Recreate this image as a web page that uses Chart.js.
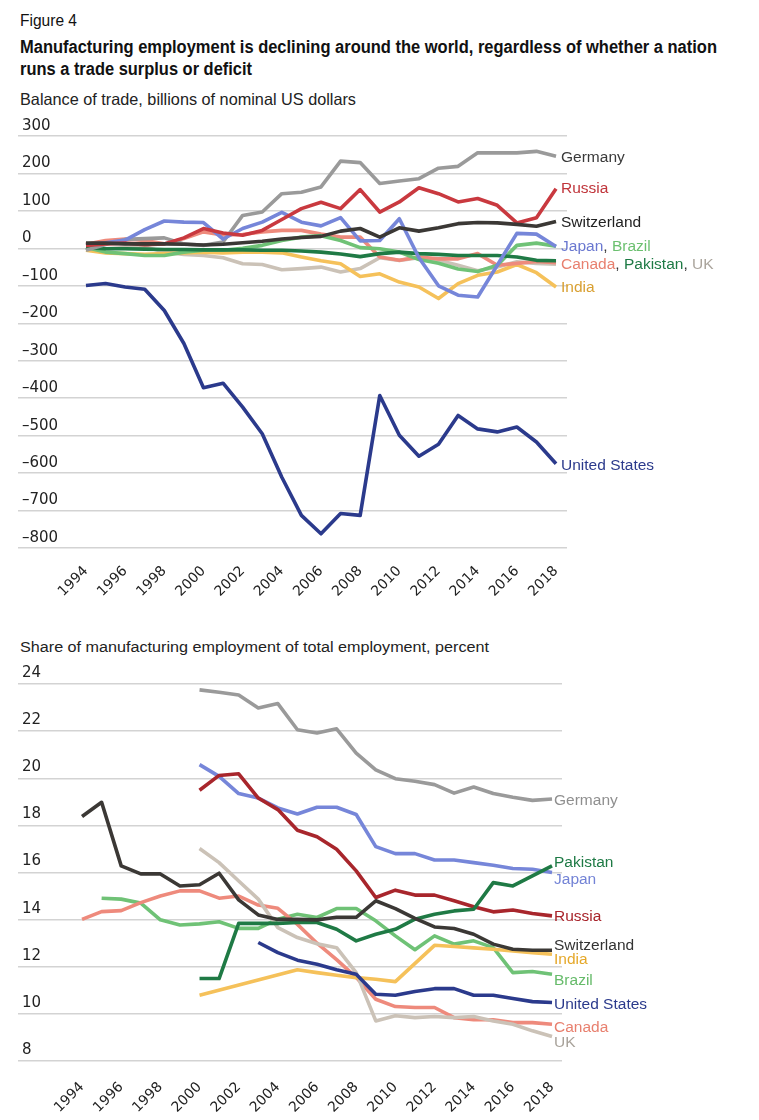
<!DOCTYPE html>
<html><head><meta charset="utf-8">
<script src="https://cdn.jsdelivr.net/npm/chart.js@4"></script>
<style>
body{margin:0;background:#fff;width:759px;height:1120px;position:relative;overflow:hidden;font-family:"Liberation Sans",Arial,sans-serif;color:#111}
.t{position:absolute;left:20px;white-space:nowrap;transform-origin:0 50%}
#fig{top:10px;font:16.5px/20px "Liberation Sans",Arial,sans-serif}
#title1{top:36px;font:bold 17.5px/22px "Liberation Sans",Arial,sans-serif}
#title2{top:58px;font:bold 17.5px/22px "Liberation Sans",Arial,sans-serif}
#sub1{top:89px;font:16.5px/20px "Liberation Sans",Arial,sans-serif;color:#222}
#sub2{top:637px;font:15.5px/20px "Liberation Sans",Arial,sans-serif;color:#222}
canvas{position:absolute;left:0}
#c1{top:110px}
#c2{top:655px}
</style></head>
<body>
<div class="t" id="fig" data-w="57">Figure 4</div>
<div class="t" id="title1" data-w="697">Manufacturing employment is declining around the world, regardless of whether a nation</div>
<div class="t" id="title2" data-w="232">runs a trade surplus or deficit</div>
<div class="t" id="sub1" data-w="336">Balance of trade, billions of nominal US dollars</div>
<div class="t" id="sub2" data-w="469">Share of manufacturing employment of total employment, percent</div>
<canvas id="c1" width="759" height="488"></canvas>
<canvas id="c2" width="759" height="465"></canvas>
<script>
document.querySelectorAll('[data-w]').forEach(el => {
  const w = el.getBoundingClientRect().width;
  el.style.transform = 'scaleX(' + (Number(el.dataset.w) / w) + ')';
});

const years = [1994,1995,1996,1997,1998,1999,2000,2001,2002,2003,2004,2005,2006,2007,2008,2009,2010,2011,2012,2013,2014,2015,2016,2017,2018];
const tickYears = [1994,1996,1998,2000,2002,2004,2006,2008,2010,2012,2014,2016,2018];

// Balance of trade, billions of nominal US dollars
const tradeUS = [-99,-94,-103,-109,-166,-254,-372,-360,-424,-495,-611,-713,-762,-708,-713,-393,-499,-555,-523,-446,-482,-490,-477,-517,-575];
const tradeGermany = [-5,10,24,26,28,12,8,17,88,97,146,150,164,233,229,173,180,186,214,219,255,255,255,259,246];
const tradeRussia = [8,12,14,10,12,28,53,41,35,48,77,106,123,106,157,97,124,162,146,124,133,115,68,82,159];
const tradeSwitzerland = [14,14,12,12,12,11,9,11,15,19,25,29,32,46,53,30,55,46,55,66,69,68,64,59,72];
const tradeJapan = [10,15,22,50,73,70,69,25,53,70,96,70,60,82,20,21,79,-25,-100,-125,-130,-45,40,38,5];
const tradeBrazil = [2,-10,-14,-19,-19,-10,-5,-5,0,8,21,30,34,21,2,-1,-10,-30,-40,-55,-62,-45,8,14,6];
const tradeCanada = [11,21,25,21,12,26,44,36,37,44,48,48,38,30,30,-23,-32,-23,-28,-28,-14,-45,-40,-35,-38];
const tradePakistan = [2,-1,-1,-2,-3,-3,-4,-4,-4,-5,-5,-7,-10,-15,-22,-14,-10,-14,-16,-19,-19,-19,-23,-32,-33];
const tradeIndia = [-5,-12,-14,-16,-14,-12,-10,-12,-10,-10,-12,-23,-33,-41,-75,-68,-90,-103,-134,-94,-72,-63,-43,-65,-103];
const tradeUK = [-5,-1,2,4,-10,-16,-19,-25,-41,-43,-57,-54,-50,-63,-54,-25,-32,-25,-32,-45,-60,-50,-36,-40,-42];

// Share of manufacturing employment of total employment, percent
const shareGermany = [null,null,null,null,null,null,23.75,23.65,23.53,22.98,23.17,22.06,21.92,22.1,21.07,20.36,19.98,19.87,19.73,19.37,19.63,19.35,19.19,19.06,19.12];
const shareJapan = [null,null,null,null,null,null,20.58,20.08,19.35,19.16,18.74,18.48,18.77,18.77,18.46,17.1,16.8,16.8,16.53,16.53,16.42,16.31,16.17,16.14,16.0];
const shareRussia = [null,null,null,null,null,null,19.49,20.12,20.19,19.16,18.67,17.79,17.52,16.99,16.07,14.94,15.25,15.04,15.04,14.8,14.55,14.33,14.41,14.26,14.16];
const shareSwitzerland = [18.38,18.98,16.28,15.94,15.94,15.43,15.48,15.97,14.84,14.2,14.01,14.01,13.99,14.1,14.1,14.8,14.47,14.05,13.69,13.62,13.38,12.96,12.74,12.7,12.7];
const shareCanada = [14.01,14.34,14.38,14.72,15.0,15.22,15.22,14.91,15.0,14.62,14.48,13.8,13.0,12.3,11.55,10.62,10.31,10.27,10.27,9.84,9.75,9.75,9.63,9.63,9.56];
const shareBrazil = [null,14.91,14.87,14.7,13.99,13.77,13.82,13.91,13.63,13.63,14.02,14.23,14.09,14.47,14.47,13.95,13.31,12.72,13.31,12.96,13.1,12.81,11.75,11.8,11.68];
const sharePakistan = [null,null,null,null,null,null,11.5,11.5,13.84,13.84,13.84,13.88,13.88,13.59,13.1,13.38,13.59,14.02,14.23,14.37,14.44,15.57,15.43,15.86,16.28];
const shareUK = [null,null,null,null,null,null,17.02,16.42,15.64,14.87,13.66,13.24,12.98,12.81,11.75,9.7,9.92,9.84,9.89,9.84,9.89,9.7,9.56,9.28,9.04];
const shareIndia = [null,null,null,null,null,null,10.79,null,null,null,null,11.87,11.75,11.64,11.54,11.47,11.37,null,12.91,12.86,12.8,12.74,12.67,12.6,12.53];
const shareUS = [null,null,null,null,null,null,null,null,null,13.03,12.6,12.28,12.11,11.87,11.68,10.83,10.79,10.95,11.07,11.07,10.79,10.79,10.65,10.52,10.48];

// end-label anchor values (in data units)
const tradeLabelAt = {Germany:243, Russia:160, Switzerland:69, JapanBrazil:5, CanadaPakistanUK:-43, India:-104, US:-579};
const shareLabelAt = {Germany:19.05, Pakistan:16.41, Japan:15.68, Russia:14.12, Switzerland:12.89, India:12.29, Brazil:11.41, US:10.38, Canada:9.43, UK:8.78};

const C = {
  us:'#2b3a8c', germany:'#9a9a9a', russiaTop:'#c9393f', russiaBot:'#a8262c', swiss:'#3b3835',
  japan:'#7686d9', brazil:'#6fc276', canada:'#ee8a7c', pakistan:'#1f7a45', uk:'#cbc2b7', india:'#f5c15a'
};

Chart.defaults.font.family = "'Liberation Sans', Arial, sans-serif";
Chart.defaults.color = '#222';
const tickFont = "'DejaVu Sans', 'Liberation Sans', sans-serif";

function pts(arr){ return years.map((yr,i)=>({x:yr, y:arr[i]})); }
function ds(label, arr, color, w){
  return {label, data:pts(arr), borderColor:color, backgroundColor:color, borderWidth:w||3.6,
    pointRadius:0, tension:0, spanGaps:true, borderJoinStyle:'round', borderCapStyle:'butt', fill:false};
}

const endLabels = {
  id:'endLabels',
  afterDatasetsDraw(chart, args, opts){
    const {ctx, scales:{x, y}} = chart;
    ctx.save();
    ctx.font = opts.font;
    ctx.textBaseline = 'middle';
    ctx.textAlign = 'left';
    opts.items.forEach(it=>{
      let px = x.getPixelForValue(years[years.length-1]) + opts.dx;
      const py = y.getPixelForValue(it.at);
      it.parts.forEach(([t,c])=>{ ctx.fillStyle = c; ctx.fillText(t, px, py); px += ctx.measureText(t).width; });
    });
    ctx.restore();
  }
};

function xAxis(min, max, pad){
  return {
    type:'linear', min, max,
    grid:{display:false}, border:{display:false},
    afterBuildTicks: s => { s.ticks = tickYears.map(v=>({value:v})); },
    ticks:{minRotation:45, maxRotation:45, autoSkip:false, padding:pad, color:'#222', font:{family:tickFont, size:14}, callback:v=>String(v)},
  };
}
function yAxis(min, max, step, fmt, off){
  return {
    min, max,
    grid:{color:'#d3d3d3', lineWidth:1.5, drawTicks:false}, border:{display:false},
    ticks:{stepSize:step, mirror:true, padding:4, labelOffset:off, color:'#222', font:{family:tickFont, size:15}, callback:fmt},
    afterFit: s => { s.width = 0; }
  };
}

new Chart(document.getElementById('c1'), {
  type:'line',
  data:{datasets:[
    ds('Switzerland', tradeSwitzerland, C.swiss),
    ds('United States', tradeUS, C.us),
    ds('Russia', tradeRussia, C.russiaTop),
    ds('Japan', tradeJapan, C.japan),
    ds('Germany', tradeGermany, C.germany),
    ds('Pakistan', tradePakistan, C.pakistan),
    ds('Brazil', tradeBrazil, C.brazil),
    ds('Canada', tradeCanada, C.canada),
    ds('India', tradeIndia, C.india),
    ds('UK', tradeUK, C.uk),
  ]},
  options:{
    responsive:false, animation:false, devicePixelRatio:1,
    layout:{padding:{left:18, right:192, top:26, bottom:0}},
    plugins:{legend:{display:false}, tooltip:{enabled:false},
      endLabels:{font:"15.5px 'Liberation Sans', Arial, sans-serif", dx:5, items:[
        {at:tradeLabelAt.Germany, parts:[['Germany','#3a3a3a']]},
        {at:tradeLabelAt.Russia, parts:[['Russia','#c0353b']]},
        {at:tradeLabelAt.Switzerland, parts:[['Switzerland','#222']]},
        {at:tradeLabelAt.JapanBrazil, parts:[['Japan','#6a78d0'],[', ','#333'],['Brazil','#6cc070']]},
        {at:tradeLabelAt.CanadaPakistanUK, parts:[['Canada','#e8806f'],[', ','#333'],['Pakistan','#1e7a45'],[', ','#333'],['UK','#aaa49c']]},
        {at:tradeLabelAt.India, parts:[['India','#d9a032']]},
        {at:tradeLabelAt.US, parts:[['United States','#2b3a8c']]},
      ]}
    },
    scales:{
      x:Object.assign(xAxis(1990.53, 2018.56, 7), {afterFit: s => { s.height = 50; }}),
      y:yAxis(-800, 300, 100, v => v < 0 ? '\u2013' + Math.abs(v) : String(v), -10)
    }
  },
  plugins:[endLabels]
});

new Chart(document.getElementById('c2'), {
  type:'line',
  data:{datasets:[
    ds('Switzerland', shareSwitzerland, C.swiss),
    ds('United States', shareUS, C.us),
    ds('Pakistan', sharePakistan, C.pakistan),
    ds('Russia', shareRussia, C.russiaBot),
    ds('Japan', shareJapan, C.japan),
    ds('India', shareIndia, C.india),
    ds('UK', shareUK, C.uk),
    ds('Canada', shareCanada, C.canada),
    ds('Brazil', shareBrazil, C.brazil),
    ds('Germany', shareGermany, C.germany),
  ]},
  options:{
    responsive:false, animation:false, devicePixelRatio:1,
    layout:{padding:{left:18, right:197, top:29, bottom:0}},
    plugins:{legend:{display:false}, tooltip:{enabled:false},
      endLabels:{font:"15.5px 'Liberation Sans', Arial, sans-serif", dx:2, items:[
        {at:shareLabelAt.Germany, parts:[['Germany','#8f8f8f']]},
        {at:shareLabelAt.Pakistan, parts:[['Pakistan','#1e7a45']]},
        {at:shareLabelAt.Japan, parts:[['Japan','#7383d6']]},
        {at:shareLabelAt.Russia, parts:[['Russia','#a8232a']]},
        {at:shareLabelAt.Switzerland, parts:[['Switzerland','#333']]},
        {at:shareLabelAt.India, parts:[['India','#e5a82a']]},
        {at:shareLabelAt.Brazil, parts:[['Brazil','#66bb6a']]},
        {at:shareLabelAt.US, parts:[['United States','#2b3a8c']]},
        {at:shareLabelAt.Canada, parts:[['Canada','#e8806f']]},
        {at:shareLabelAt.UK, parts:[['UK','#a8a29a']]},
      ]}
    },
    scales:{
      x:Object.assign(xAxis(1990.73, 2018.51, 10), {afterFit: s => { s.height = 59; }}),
      y:yAxis(8, 24, 2, v => String(v), -11)
    }
  },
  plugins:[endLabels]
});
</script>
</body></html>
